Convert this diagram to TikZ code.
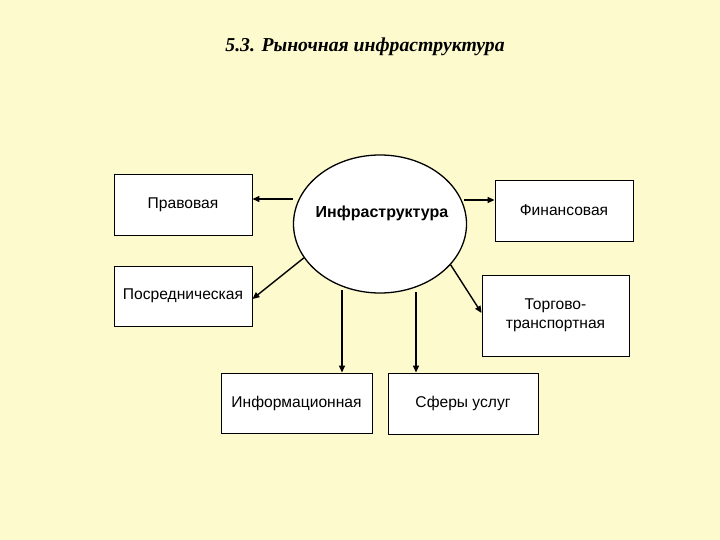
\documentclass[tikz,border=0pt]{standalone}
\usepackage{fontspec}
\setmainfont{Liberation Sans}
\newfontfamily\titlefont{Liberation Serif}
\usetikzlibrary{arrows.meta,shapes.geometric}
\definecolor{bg}{RGB}{253,250,205}
\begin{document}
\begin{tikzpicture}[x=1pt,y=-1pt,
  box/.style={draw=black,fill=white,line width=0.9pt,inner sep=0pt,align=center,font=\fontsize{15.6}{18}\selectfont},
  arr/.style={line width=1.4pt,-{Triangle[length=7pt,width=6pt]}}]
\fill[bg] (0,0) rectangle (720,540);
\useasboundingbox (0,0) rectangle (720,540);
\node[font=\titlefont\bfseries\itshape\fontsize{19.7}{22}\selectfont] (title) at (365,47) {5.3. Рыночная инфраструктура};
\node[ellipse,draw=black,fill=white,line width=1.3pt,minimum width=173pt,minimum height=138pt,inner sep=0pt] (ell) at (380,224) {};
\node[font=\bfseries\fontsize{16}{18}\selectfont] (inftext) at (382,213) {Инфраструктура};
\node[box,minimum width=138pt,minimum height=61pt] (prav) at (183,204.5) {};
\node[font=\fontsize{15.6}{18}\selectfont] (pravt) at (183,205) {Правовая};
\node[box,minimum width=138pt,minimum height=61pt] (fin) at (564,210.5) {Финансовая};
\node[box,minimum width=138pt,minimum height=60pt] (posr) at (183,296) {Посредническая};
\node[box,minimum width=147pt,minimum height=81pt] (torg) at (555.5,315.5) {Торгово-\\[1pt]транспортная};
\node[box,minimum width=151pt,minimum height=60pt] (info) at (296.5,403) {Информационная};
\node[box,minimum width=150pt,minimum height=61pt] (usl) at (463,403.5) {Сферы услуг};
\draw[arr] (ell.west |- 0,199) -- (prav.east |- 0,199);
\draw[arr] (ell.east |- 0,200) ++(-3,0) -- (fin.west |- 0,200);
\draw[arr] (ell.-156) -- (posr.east |- 0,299);
\draw[arr] (ell.-30) -- (torg.west |- 0,313);
\coordinate (v1) at (342,290);
\coordinate (v2) at (416,292);
\draw[arr] (v1) -- (v1 |- info.north);
\draw[arr] (v2) -- (v2 |- usl.north);
\end{tikzpicture}
\end{document}
